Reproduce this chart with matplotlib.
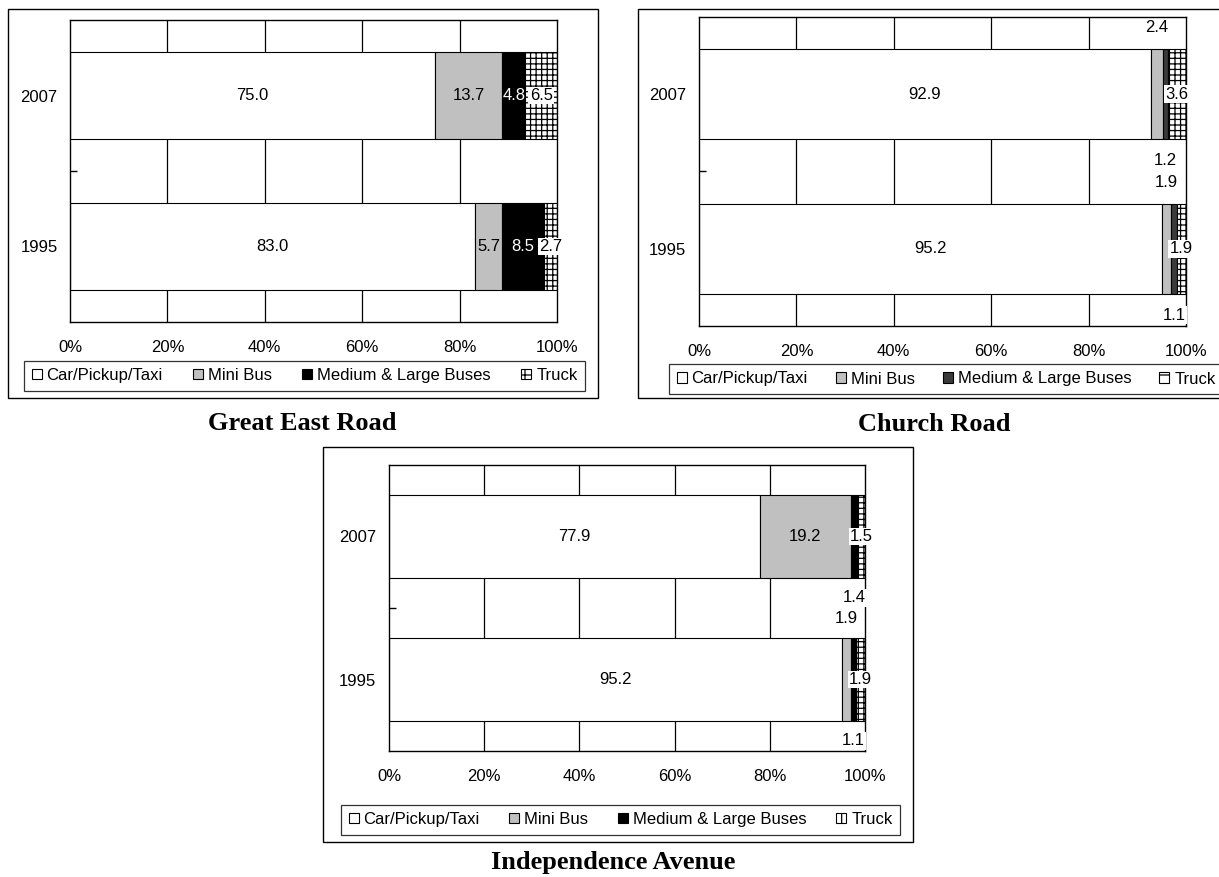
import matplotlib
matplotlib.use("Agg")
import matplotlib.pyplot as plt
from matplotlib.patches import Rectangle

plt.rcParams['font.family'] = ['Liberation Sans', 'DejaVu Sans']
plt.rcParams['hatch.linewidth'] = 0.9

# ---------------- data ----------------
years = ['1995', '2007']
vehicle_types = ['Car/Pickup/Taxi', 'Mini Bus', 'Medium & Large Buses', 'Truck']

great_east_1995 = [83.0, 5.7, 8.5, 2.7]
great_east_2007 = [75.0, 13.7, 4.8, 6.5]

church_1995 = [95.2, 1.9, 1.1, 1.9]
church_2007 = [92.9, 2.4, 1.2, 3.6]

independence_1995 = [95.2, 1.9, 1.1, 1.9]
independence_2007 = [77.9, 19.2, 1.4, 1.5]

x_ticks = [0, 20, 40, 60, 80, 100]
x_tick_labels = ['0%', '20%', '40%', '60%', '80%', '100%']

titles = ['Great East Road', 'Church Road', 'Independence Avenue']

# ---------------- layout (pixels) ----------------
W, H = 1219, 877
fig = plt.figure(figsize=(W / 100, H / 100), dpi=100)


def frac_rect(x0, y0, x1, y1):
    return [x0 / W, 1 - y1 / H, (x1 - x0) / W, (y1 - y0) / H]


panels = [
    dict(values=[great_east_1995, great_east_2007], title=titles[0],
         ax=(70, 20, 557, 322), frame=(8, 9, 598, 398), legend=(24, 359, 585, 392),
         title_xy=(302, 423), medium_color='black',
         place=[['in', 'in', 'in', 'in'], ['in', 'in', 'in', 'in']]),
    dict(values=[church_1995, church_2007], title=titles[1],
         ax=(699, 17, 1186, 326), frame=(638, 9, 1240, 398), legend=(669, 366, 1223, 392),
         title_xy=(934, 425), medium_color='#3a3a3a',
         place=[['in', 'above', 'below', 'in'], ['in', 'above', 'below', 'in']]),
    dict(values=[independence_1995, independence_2007], title=titles[2],
         ax=(389, 465, 865, 751), frame=(323, 447, 913, 842), legend=(341, 803, 900, 836),
         title_xy=(613, 862), medium_color='black',
         place=[['in', 'above', 'below', 'in'], ['in', 'in', 'below', 'in']]),
]

bar_h = 0.58

for p in panels:
    ax = fig.add_axes(frac_rect(*p['ax']))
    colors = ['white', '#c0c0c0', p['medium_color'], 'white']
    hatches = [None, None, None, '+++']
    text_colors = ['black', 'black', 'white', 'black']

    for xv in x_ticks[1:-1]:
        ax.axvline(xv, color='black', lw=0.9, zorder=0)

    for yi, vals in enumerate(p['values']):
        total = sum(vals)
        left = 0.0
        for k, v in enumerate(vals):
            w = v / total * 100
            ax.barh(yi, w, left=left, height=bar_h, color=colors[k],
                    edgecolor='black', linewidth=0.8, hatch=hatches[k], zorder=2)
            cx = left + w / 2
            pl = p['place'][yi][k]
            if pl == 'in':
                ty = yi
            elif pl == 'above':
                ty = yi + 0.43
            else:
                ty = yi - 0.43
            tc = text_colors[k] if pl == 'in' else 'black'
            bbox = None
            if k == 3 or pl != 'in':
                bbox = dict(facecolor='white', edgecolor='none', pad=1.0)
            ax.text(cx, ty, f'{v:.1f}', ha='center', va='center', fontsize=12,
                    color=tc, bbox=bbox, zorder=5, clip_on=False)
            left += w

    ax.set_xlim(0, 100)
    ax.set_ylim(-0.5, 1.5)
    ax.set_xticks(x_ticks)
    ax.set_xticklabels(x_tick_labels)
    ax.set_yticks([0, 1])
    ax.set_yticklabels(years)
    ax.set_yticks([0.5], minor=True)
    ax.tick_params(axis='both', which='major', length=0, labelsize=12)
    ax.tick_params(axis='x', pad=13)
    ax.tick_params(axis='y', which='major', pad=9)
    ax.tick_params(axis='y', which='minor', length=5, direction='in', width=1)
    for s in ax.spines.values():
        s.set_color('black')
        s.set_linewidth(1.0)
        s.set_zorder(3)

    # legend
    handles = [Rectangle((0, 0), 1, 1, facecolor=colors[k], edgecolor='black',
                         linewidth=0.8, hatch=('+' if k == 3 else None))
               for k in range(4)]
    lx0, ly0, lx1, ly1 = p['legend']
    leg = fig.legend(handles, vehicle_types, loc='center',
                     bbox_to_anchor=(lx0 / W, 1 - ly1 / H, (lx1 - lx0) / W, (ly1 - ly0) / H),
                     mode='expand', ncol=4, fontsize=12, frameon=True, fancybox=False,
                     edgecolor='black', borderaxespad=0, handlelength=0.6,
                     handleheight=0.6, handletextpad=0.3, borderpad=0.45,
                     columnspacing=1.0)
    leg.get_frame().set_linewidth(0.9)

    # outer frame
    fx0, fy0, fx1, fy1 = p['frame']
    fig.patches.append(Rectangle((fx0 / W, 1 - fy1 / H), (fx1 - fx0) / W, (fy1 - fy0) / H,
                                 transform=fig.transFigure, fill=False,
                                 edgecolor='black', linewidth=1.0))

    tx, ty = p['title_xy']
    fig.text(tx / W, 1 - ty / H, p['title'], ha='center', va='center', fontsize=19,
             fontweight='bold', family=['Liberation Serif', 'DejaVu Serif'])

fig.savefig('out.png', dpi=100)
